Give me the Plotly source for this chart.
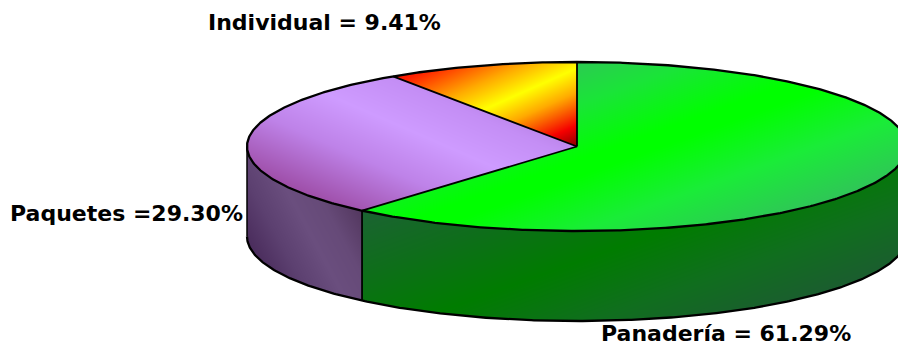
import numpy as np
import plotly.graph_objects as go

# Sales share by product line
categories = ["Panadería", "Paquetes", "Individual"]
shares = [61.29, 29.30, 9.41]
label_texts = ["Panadería = 61.29%", "Paquetes =29.30%", "Individual = 9.41%"]

# Drawing geometry of the tilted disc, in page pixels
WIDTH, HEIGHT = 898, 347
CX, CY, RX, RY, DEPTH = 577.0, 146.5, 330.0, 84.5, 90.0

# Each face has a linear sheen: anchor point, unit normal of the band, colour stops along it
top_shading = {
    "Panadería": ((637, 147), (0.339, 0.941),
                  [(-110, "rgb(48,196,88)"), (-60, "rgb(26,228,56)"), (-8, "rgb(0,255,0)"), (8, "rgb(0,255,0)"), (60, "rgb(26,236,56)"), (118, "rgb(48,196,88)")]),
    "Paquetes": ((420, 135), (0.40, -0.92),
                 [(-100, "rgb(158,78,168)"), (-45, "rgb(190,130,232)"), (0, "rgb(206,155,255)"), (40, "rgb(196,142,245)"), (85, "rgb(172,116,212)")]),
    "Individual": ((573, 70), (0.407, 0.913),
                   [(-85, "rgb(235,0,0)"), (-60, "rgb(255,30,0)"), (-25, "rgb(255,170,0)"), (0, "rgb(255,255,0)"), (22, "rgb(255,170,0)"), (52, "rgb(245,0,0)"), (75, "rgb(120,0,0)")]),
}
side_shading = {
    "Panadería": ((500, 290), (0.339, 0.941),
                  [(-125, "rgb(28,98,52)"), (-60, "rgb(14,110,26)"), (0, "rgb(0,124,0)"), (60, "rgb(16,110,30)"), (128, "rgb(30,88,52)")]),
    "Paquetes": ((312, 238), (0.88, -0.47),
                 [(-62, "rgb(72,42,90)"), (-30, "rgb(92,64,112)"), (0, "rgb(106,78,126)"), (26, "rgb(102,74,120)"), (55, "rgb(84,56,96)")]),
}


def scale_for(stops):
    low, high = stops[0][0], stops[-1][0]
    return low, high, [[(pos - low) / (high - low), colour] for pos, colour in stops]


def face_trace(name, mask, shading):
    (ax, ay), (nx, ny), stops = shading
    rows = np.where(mask.any(axis=1))[0]
    cols = np.where(mask.any(axis=0))[0]
    r0, r1, c0, c1 = rows[0], rows[-1] + 1, cols[0], cols[-1] + 1
    yy, xx = np.mgrid[r0:r1, c0:c1] + 0.5
    z = np.round(nx * (xx - ax) + ny * (yy - ay), 1)
    z[~mask[r0:r1, c0:c1]] = np.nan
    low, high, scale = scale_for(stops)
    return go.Heatmap(
        x=np.arange(c0, c1) + 0.5, y=np.arange(r0, r1) + 0.5, z=z.tolist(),
        zmin=low, zmax=high, colorscale=scale, showscale=False,
        hoverinfo="skip", name=name, zsmooth=False,
    )


def rim(angle_deg):
    a = np.radians(angle_deg)
    return CX + RX * np.sin(a), CY - RY * np.cos(a)


py, px = np.mgrid[0:HEIGHT, 0:WIDTH] + 0.5
u, v = (px - CX) / RX, (py - CY) / RY
angle = np.degrees(np.arctan2(u, -v)) % 360
inside_top = u ** 2 + v ** 2 <= 1

# Wrap-around wall: below the front rim of the disc, above the same rim lowered by DEPTH
front = CY + RY * np.sqrt(np.clip(1 - u ** 2, 0, 1))
inside_side = (np.abs(u) <= 1) & (py >= front) & (py <= front + DEPTH)
# Angle on the rim straight above each wall pixel
wall_angle = np.degrees(np.arctan2(u, -np.sqrt(np.clip(1 - u ** 2, 0, 1)))) % 360

edges = np.concatenate([[0], np.cumsum(shares)]) * 3.6

fig = go.Figure()
for i, cat in enumerate(categories):
    start, stop = edges[i], edges[i + 1]
    if cat in side_shading:
        mask = inside_side & (wall_angle >= start) & (wall_angle < stop)
        fig.add_trace(face_trace(cat + " lado", mask, side_shading[cat]))
for i, cat in enumerate(categories):
    start, stop = edges[i], edges[i + 1]
    mask = inside_top & (angle >= start) & (angle < stop)
    fig.add_trace(face_trace(cat, mask, top_shading[cat]))


def outline(xs, ys, width=2.3):
    fig.add_trace(go.Scatter(x=xs, y=ys, mode="lines", hoverinfo="skip", showlegend=False,
                             line=dict(color="black", width=width)))


# Disc rim, lower rim of the wall and the wall's vertical edges
t = np.linspace(0, 360, 721)
rx_pts, ry_pts = rim(t)
outline(rx_pts, ry_pts)
t = np.linspace(90, 270, 361)
rx_pts, ry_pts = rim(t)
outline(rx_pts, ry_pts + DEPTH)
lx, ly = rim(270)
outline([lx, lx], [ly, ly + DEPTH], 1.5)

# Spokes between the slices, with the wall edge under any spoke on the front half
for a in edges[:-1]:
    ex, ey = rim(a)
    outline([CX, ex], [CY, ey], 1.8)
    if 90 < a < 270:
        outline([ex, ex], [ey, ey + DEPTH], 1.8)

label_pos = {"Panadería": (599, 333), "Paquetes": (8, 213), "Individual": (206, 22)}
annotations = [
    dict(x=label_pos[c][0], y=label_pos[c][1], text=f"<b>{txt}</b>", showarrow=False,
         xanchor="left", yanchor="middle", xref="x", yref="y",
         font=dict(family="DejaVu Sans", size=22, color="black"))
    for c, txt in zip(categories, label_texts)
]

fig.update_layout(
    width=WIDTH, height=HEIGHT, margin=dict(l=0, r=0, t=0, b=0),
    paper_bgcolor="white", plot_bgcolor="white", showlegend=False,
    xaxis=dict(range=[0, WIDTH], visible=False, fixedrange=True),
    yaxis=dict(range=[HEIGHT, 0], visible=False, fixedrange=True),
    annotations=annotations,
)
fig.write_html("out.html", config={"displayModeBar": False})
